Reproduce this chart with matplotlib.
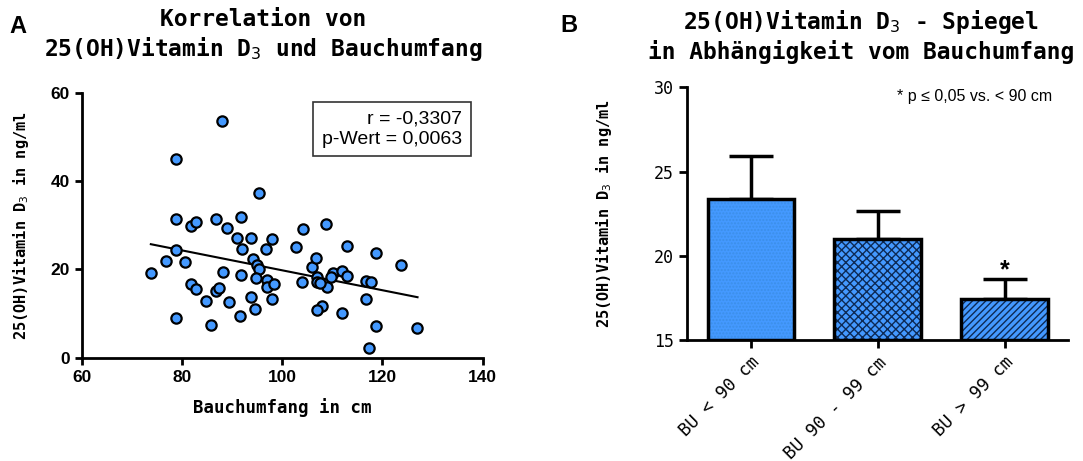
import matplotlib.pyplot as plt
import numpy as np

# Panel A data (waist circumference in cm vs 25(OH)D3 in ng/ml)
waist = [73.8, 87.9, 78.8, 78.8, 78.8, 78.8, 76.8, 80.7, 81.9, 82.9,
         81.9, 82.9, 84.8, 85.9, 86.7, 86.7, 87.4, 88.1, 88.9, 89.4,
         90.9, 91.8, 91.9, 91.8, 91.6, 93.8, 94.1, 94.9, 95.4, 95.3,
         94.8, 93.8, 94.6, 96.8, 97.9, 96.9, 96.9, 98.4, 97.9, 102.8,
         104.1, 103.9, 105.9, 106.8, 106.9, 106.9, 108.0, 106.9, 108.8, 108.9,
         110.1, 111.9, 111.9, 112.9, 112.9, 116.8, 117.8, 116.8, 117.4, 118.8,
         118.8, 123.8, 126.9, 109.7, 107.6]
vitd = [19.1, 53.6, 44.9, 31.5, 24.4, 9.1, 22.0, 21.7, 29.9, 30.8,
        16.8, 15.5, 12.9, 7.4, 31.3, 15.2, 15.7, 19.5, 29.4, 12.7,
        27.2, 31.9, 24.6, 18.7, 9.5, 27.0, 22.3, 21.1, 20.0, 37.2,
        18.1, 13.7, 11.0, 24.6, 26.9, 17.6, 15.9, 16.8, 13.2, 25.1,
        29.1, 17.1, 20.6, 22.5, 18.3, 17.2, 11.8, 10.8, 30.2, 15.9,
        19.1, 19.6, 10.2, 25.4, 18.5, 17.4, 17.1, 13.2, 2.3, 23.8,
        7.2, 21.1, 6.8, 18.3, 17.0]
fit_x = [73.8, 127.0]
fit_y = [25.7, 13.7]

# Panel B data
groups = ['BU < 90 cm', 'BU 90 - 99 cm', 'BU > 99 cm']
means = [23.35, 21.0, 17.45]
upper_err = [2.6, 1.65, 1.2]
hatches = ['.....', 'xxxx', '/////']
hatch_cols = ['#3b8fe8', '#0d2a55', '#0d2a55']

blue = '#4499ff'
mono = 'DejaVu Sans Mono'

fig = plt.figure(figsize=(10.83, 4.61), dpi=100)

# ---- panel A ----
ax = fig.add_axes([0.0754, 0.224, 0.3703, 0.575])
ax.scatter(waist, vitd, s=55, color=blue, edgecolor='black', linewidth=1.6, zorder=3)
ax.plot(fit_x, fit_y, color='black', lw=1.5, zorder=2)
ax.set_xlim(60, 140)
ax.set_ylim(0, 60)
ax.set_xticks([60, 80, 100, 120, 140])
ax.set_yticks([0, 20, 40, 60])
for s in ['top', 'right']:
    ax.spines[s].set_visible(False)
for s in ['left', 'bottom']:
    ax.spines[s].set_linewidth(2)
ax.tick_params(width=2, length=5, labelsize=12.5)
for lab in ax.get_xticklabels() + ax.get_yticklabels():
    lab.set_fontfamily('Liberation Sans')
    lab.set_fontweight('bold')
ax.set_xlabel('Bauchumfang in cm', family=mono, weight='bold', fontsize=12.5, labelpad=10)
ax.set_ylabel('25(OH)Vitamin D$_3$ in ng/ml', family=mono, weight='bold', fontsize=11, labelpad=14)
ax.text(0.948, 0.863, 'r = -0,3307\np-Wert = 0,0063', transform=ax.transAxes,
        ha='right', va='center', family='Liberation Sans', fontsize=14, linespacing=1.25,
        bbox=dict(boxstyle='square,pad=0.45', fc='white', ec='#333333', lw=1.2))
fig.text(0.243, 0.982, 'Korrelation von\n25(OH)Vitamin D$_3$ und Bauchumfang', family=mono,
         weight='bold', fontsize=16.5, linespacing=1.2, ha='center', va='top')
fig.text(0.009, 0.928, 'A', family='Liberation Sans', weight='bold', fontsize=17)

# ---- panel B ----
bx = fig.add_axes([0.6346, 0.2625, 0.3515, 0.548])
xpos = np.arange(len(groups))
bx.errorbar(xpos, means, yerr=[[0] * len(means), upper_err], fmt='none',
            ecolor='black', elinewidth=2.5, capsize=16, capthick=2.5, zorder=1)
for i in range(len(groups)):
    bx.bar(xpos[i], means[i] - 15, bottom=15, width=0.68, color=blue,
           edgecolor=hatch_cols[i], hatch=hatches[i], lw=0, zorder=2)
    bx.bar(xpos[i], means[i] - 15, bottom=15, width=0.68, fill=False,
           edgecolor='black', lw=2.5, zorder=3)
bx.text(xpos[2], 19.85, '*', ha='center', va='top', fontsize=18, weight='bold',
        family='Liberation Sans')
bx.text(0.958, 0.965, '* p \u2264 0,05 vs. < 90 cm', transform=bx.transAxes,
        ha='right', va='center', family='Liberation Sans', fontsize=11.5)
bx.set_xlim(-0.5, 2.5)
bx.set_ylim(15, 30)
bx.set_yticks([15, 20, 25, 30])
bx.set_xticks(xpos)
bx.set_xticklabels(groups, rotation=45, ha='right', rotation_mode='anchor',
                   family=mono, fontsize=12.5)
for lab in bx.get_yticklabels():
    lab.set_fontfamily(mono)
    lab.set_fontsize(12)
for s in ['top', 'right']:
    bx.spines[s].set_visible(False)
for s in ['left', 'bottom']:
    bx.spines[s].set_linewidth(2)
bx.tick_params(width=2, length=6)
bx.set_ylabel('25(OH)Vitamin D$_3$ in ng/ml', family=mono, weight='bold', fontsize=11, labelpad=29)
fig.text(0.795, 0.982, '25(OH)Vitamin D$_3$ - Spiegel\nin Abh\u00e4ngigkeit vom Bauchumfang',
         family=mono, weight='bold', fontsize=16.5, linespacing=1.2, ha='center', va='top')
fig.text(0.517, 0.93, 'B', family='Liberation Sans', weight='bold', fontsize=17)

plt.savefig('out.png', dpi=100)
